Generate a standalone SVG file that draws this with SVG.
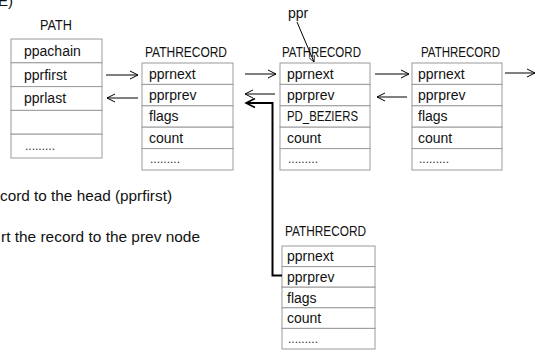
<svg xmlns="http://www.w3.org/2000/svg" width="536" height="350" viewBox="0 0 536 350">
<style>
text{font-family:"Liberation Sans",Arial,sans-serif;font-size:14px;fill:#111}
.cell{fill:#fff;stroke:#9a9a9a;stroke-width:1}
.lbl{font-size:14px}
.dots{font-size:12px;fill:#333}
.note{font-size:15px}
.arr{fill:none;stroke:#000;stroke-width:1}
.thick{fill:none;stroke:#000;stroke-width:2}
</style>
<defs>
<marker id="ah" markerWidth="10" markerHeight="10" refX="9" refY="5" orient="auto" markerUnits="userSpaceOnUse">
<path d="M1,1 L9,5 L1,9" fill="none" stroke="#000" stroke-width="1"/>
</marker>
<marker id="ahk" markerWidth="12" markerHeight="12" refX="10" refY="6" orient="auto" markerUnits="userSpaceOnUse">
<path d="M1,1.5 L10,6 L1,10.5" fill="none" stroke="#000" stroke-width="1.6"/>
</marker>
<marker id="ahs" markerWidth="8" markerHeight="8" refX="7" refY="4" orient="auto" markerUnits="userSpaceOnUse">
<path d="M1,1 L7,4 L1,7" fill="none" stroke="#000" stroke-width="0.8"/>
</marker>
</defs>
<rect width="536" height="350" fill="#fff"/>

<text class="note" x="-2" y="6">E)</text>
<text class="note" x="0" y="201" textLength="172" lengthAdjust="spacingAndGlyphs">cord to the head (pprfirst)</text>
<text class="note" x="1" y="242" textLength="199" lengthAdjust="spacingAndGlyphs">rt the record to the prev node</text>

<g id="path">
<text class="lbl" x="40" y="30" textLength="32" lengthAdjust="spacingAndGlyphs">PATH</text>
<rect class="cell" x="11" y="39" width="91" height="23.8"/>
<rect class="cell" x="11" y="62.8" width="91" height="23.8"/>
<rect class="cell" x="11" y="86.6" width="91" height="23.8"/>
<rect class="cell" x="11" y="110.4" width="91" height="23.8"/>
<rect class="cell" x="11" y="134.2" width="91" height="23.8"/>
<text x="24" y="55.5">ppachain</text>
<text x="24" y="79.5">pprfirst</text>
<text x="24" y="103">pprlast</text>
<text class="dots" x="25" y="150">.........</text>
</g>

<g id="rec1">
<text class="lbl" x="145" y="56.5" textLength="82" lengthAdjust="spacingAndGlyphs">PATHRECORD</text>
<rect class="cell" x="142" y="63" width="91" height="21.4"/>
<rect class="cell" x="142" y="84.4" width="91" height="21.4"/>
<rect class="cell" x="142" y="105.8" width="91" height="21.4"/>
<rect class="cell" x="142" y="127.2" width="91" height="21.4"/>
<rect class="cell" x="142" y="148.6" width="91" height="21.4"/>
<text x="149" y="78.5">pprnext</text>
<text x="149" y="100">pprprev</text>
<text x="149" y="121.3">flags</text>
<text x="149" y="142.7">count</text>
<text class="dots" x="150" y="163">.........</text>
</g>

<g id="rec2">
<text class="lbl" x="282" y="56.5" textLength="79" lengthAdjust="spacingAndGlyphs">PATHRECORD</text>
<rect class="cell" x="280" y="63" width="90" height="21.4"/>
<rect class="cell" x="280" y="84.4" width="90" height="21.4"/>
<rect class="cell" x="280" y="105.8" width="90" height="21.4"/>
<rect class="cell" x="280" y="127.2" width="90" height="21.4"/>
<rect class="cell" x="280" y="148.6" width="90" height="21.4"/>
<text x="287" y="78.5">pprnext</text>
<text x="287" y="100">pprprev</text>
<text x="287" y="121.3" textLength="71" lengthAdjust="spacingAndGlyphs">PD_BEZIERS</text>
<text x="287" y="142.7">count</text>
<text class="dots" x="288" y="163">.........</text>
</g>

<g id="rec3">
<text class="lbl" x="421" y="56.5" textLength="79" lengthAdjust="spacingAndGlyphs">PATHRECORD</text>
<rect class="cell" x="412" y="63" width="90" height="21.4"/>
<rect class="cell" x="412" y="84.4" width="90" height="21.4"/>
<rect class="cell" x="412" y="105.8" width="90" height="21.4"/>
<rect class="cell" x="412" y="127.2" width="90" height="21.4"/>
<rect class="cell" x="412" y="148.6" width="90" height="21.4"/>
<text x="418" y="78.5">pprnext</text>
<text x="418" y="100">pprprev</text>
<text x="418" y="121.3">flags</text>
<text x="418" y="142.7">count</text>
<text class="dots" x="419" y="163">.........</text>
</g>

<g id="rec4">
<text class="lbl" x="285" y="236" textLength="81" lengthAdjust="spacingAndGlyphs">PATHRECORD</text>
<rect class="cell" x="282" y="246" width="93" height="20.6"/>
<rect class="cell" x="282" y="266.6" width="93" height="20.6"/>
<rect class="cell" x="282" y="287.2" width="93" height="20.6"/>
<rect class="cell" x="282" y="307.8" width="93" height="20.6"/>
<rect class="cell" x="282" y="328.4" width="93" height="20.6"/>
<text x="287" y="261">pprnext</text>
<text x="287" y="282">pprprev</text>
<text x="287" y="302.5">flags</text>
<text x="287" y="323">count</text>
<text class="dots" x="288" y="343">.........</text>
</g>

<g id="ppr">
<text x="288" y="18">ppr</text>
</g>

<g id="connectors">
<line class="arr" x1="106" y1="75" x2="138" y2="75" marker-end="url(#ah)"/>
<line class="arr" x1="138" y1="98" x2="107" y2="98" marker-end="url(#ah)"/>
<line class="arr" x1="245" y1="74" x2="276" y2="74" marker-end="url(#ah)"/>
<line class="arr" x1="275" y1="94" x2="245" y2="94" marker-end="url(#ah)"/>
<line class="arr" x1="375" y1="74" x2="409" y2="74" marker-end="url(#ah)"/>
<line class="arr" x1="407" y1="97" x2="377" y2="97" marker-end="url(#ah)"/>
<line class="arr" x1="505" y1="73" x2="535" y2="73" marker-end="url(#ah)"/>
<line class="arr" x1="297" y1="22" x2="314" y2="62" marker-end="url(#ahs)" stroke-width="0.8"/>
<path class="thick" d="M282,275.5 H272.5 V103 H246" marker-end="url(#ahk)"/>
</g>
</svg>
